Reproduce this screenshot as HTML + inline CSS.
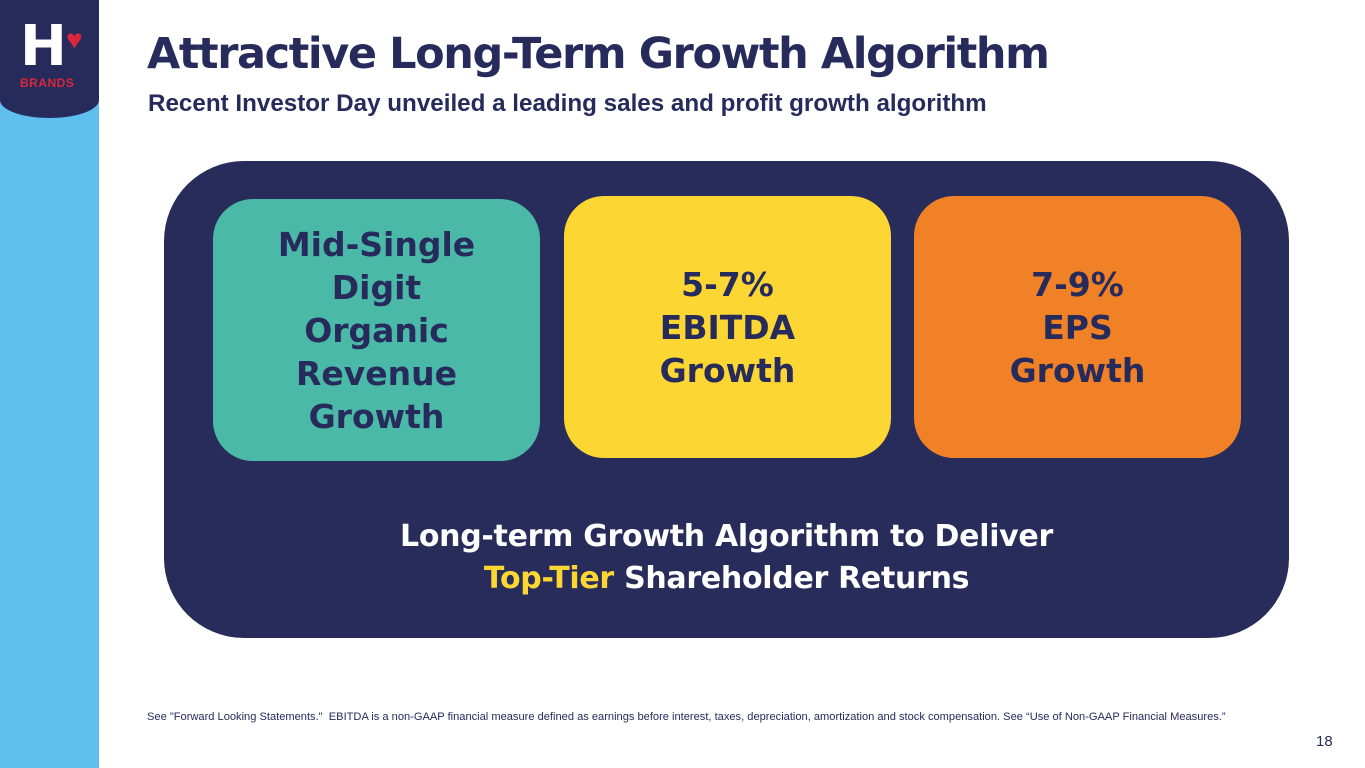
<!DOCTYPE html>
<html><head><meta charset="utf-8"><style>
body{margin:0;width:1365px;height:768px;position:relative;background:#fff;overflow:hidden;font-family:"Liberation Sans",sans-serif}
.strip{position:absolute;left:0;top:0;width:99px;height:768px;background:#5fbfee}
.logo{position:absolute;left:0;top:0;width:99px;height:118px;background:#262b5c;border-radius:0 0 50% 50%/0 0 18px 18px}
.h{position:absolute;left:20px;top:22px;color:#fff;font:900 56px/50px "DejaVu Sans",sans-serif}
.heart{position:absolute;left:66px;top:26px;color:#d8283a;font-size:28px;line-height:28px}
.br{position:absolute;left:20px;top:76px;color:#d8283a;font:bold 12px "Liberation Sans",sans-serif;letter-spacing:0.5px}
h1{position:absolute;left:147px;top:26px;margin:0;color:#262b5c;font:bold 43px/56px "DejaVu Sans",sans-serif;letter-spacing:-1.4px}
.sub{position:absolute;left:148px;top:90px;color:#262b5c;font:bold 24.2px/28px "Liberation Sans",sans-serif}
.panel{position:absolute;left:164px;top:161px;width:1125px;height:477px;background:#272c5b;border-radius:80px}
.box{position:absolute;width:327px;height:262px;border-radius:40px;display:flex;align-items:center;justify-content:center;text-align:center;color:#262b5c;font:bold 33px/43px "DejaVu Sans",sans-serif}
.bottom{position:absolute;left:164px;width:1125px;top:516px;text-align:center;color:#fff;font:bold 30px/42px "DejaVu Sans",sans-serif;letter-spacing:-0.3px}
.foot{position:absolute;left:147px;top:711px;font-size:11.1px;color:#262b5c}
.pg{position:absolute;left:1316px;top:733px;font-size:15px;color:#262b5c}
</style></head><body>
<div class="strip"></div>
<div class="logo"><div class="h">H</div><div class="heart">♥</div><div class="br">BRANDS</div></div>
<h1>Attractive Long-Term Growth Algorithm</h1>
<div class="sub">Recent Investor Day unveiled a leading sales and profit growth algorithm</div>
<div class="panel"></div>
<div class="box" style="left:213px;top:199px;background:#4bb9a8">Mid-Single<br>Digit<br>Organic<br>Revenue<br>Growth</div>
<div class="box" style="left:564px;top:196px;background:#fcd633">5-7%<br>EBITDA<br>Growth</div>
<div class="box" style="left:914px;top:196px;background:#f18127">7-9%<br>EPS<br>Growth</div>
<div class="bottom">Long-term Growth Algorithm to Deliver<br><span style="color:#fcd633">Top-Tier</span> Shareholder Returns</div>
<div class="foot">See "Forward Looking Statements."&nbsp; EBITDA is a non-GAAP financial measure defined as earnings before interest, taxes, depreciation, amortization and stock compensation. See “Use of Non-GAAP Financial Measures.”</div>
<div class="pg">18</div>
</body></html>
